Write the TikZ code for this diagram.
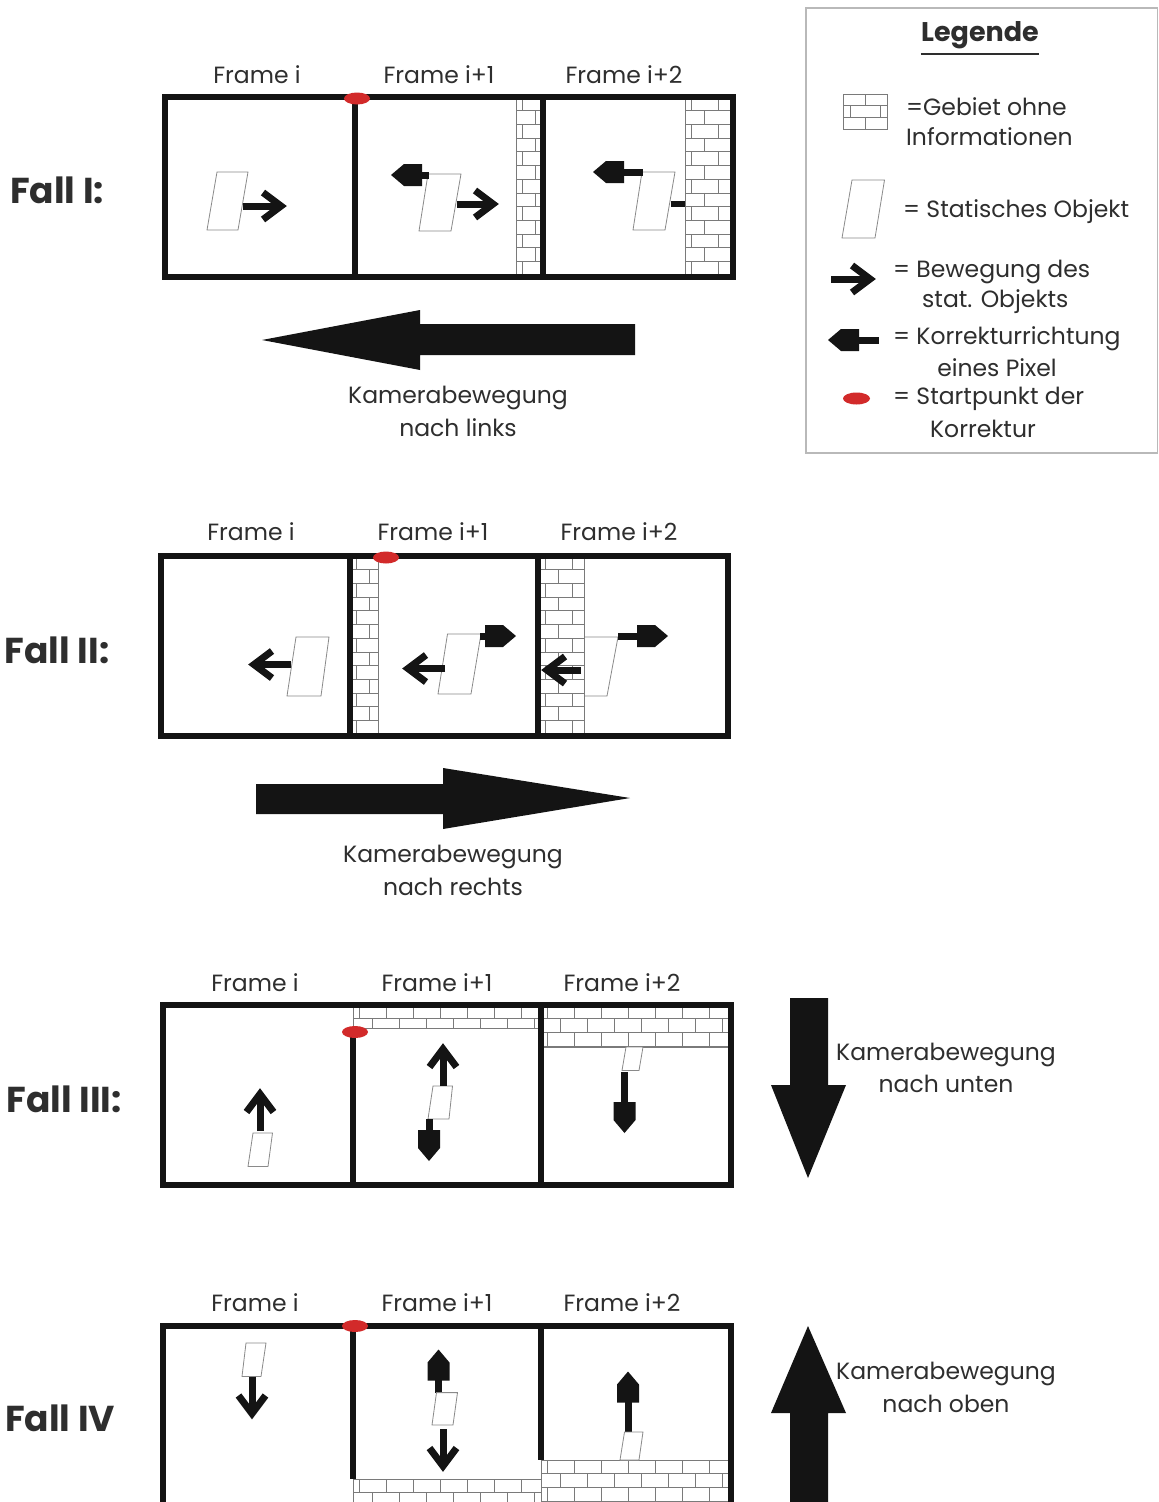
\documentclass[tikz,border=0pt]{standalone}
\usepackage{fontspec}
\setmainfont{Poppins}
\usetikzlibrary{calc}
\definecolor{txt}{HTML}{2E2E2E}
\definecolor{redpt}{HTML}{D22A2A}
\definecolor{objgray}{HTML}{8A8A8A}
\definecolor{brickgray}{HTML}{7A7A7A}
\tikzset{
  framebox/.style={line width=6pt, draw=black!92},
  divider/.style={line width=6pt, draw=black!92},
  obj/.style={draw=objgray, line width=0.8pt, fill=white},
  brickline/.style={draw=brickgray, line width=0.8pt},
  lbl/.style={text=txt, font=\fontsize{23.5}{26}\selectfont, inner sep=0pt},
  fall/.style={text=txt, font=\fontsize{36}{40}\selectfont\bfseries, inner sep=0pt},
  startpt/.style={fill=redpt, draw=none},
  bigarrow/.style={fill=black!92, draw=none}
}
\newcommand{\chev}[4]{% tip x, tip y, angle, shaft length
  \begin{scope}[shift={(#1,#2)},rotate=#3]
    \draw[line width=7pt, black!92] (-#4,0) -- (-7,0);
    \draw[line width=7pt, black!92, line join=miter, miter limit=10] (-23,-13.5) -- (-5,0) -- (-23,13.5);
  \end{scope}}
\newcommand{\blockarr}[4]{% tip x, tip y, angle, total length
  \begin{scope}[shift={(#1,#2)},rotate=#3]
    \fill[black!92] (0,0) -- (-13,11) -- (-31,11) -- (-31,-11) -- (-13,-11) -- cycle;
    \fill[black!92] (-30,-3.5) rectangle (-#4,3.5);
  \end{scope}}
\newcommand{\bricks}[4]{% x1 y1 x2 y2
  \begin{scope}
    \fill[white] (#1,#2) rectangle (#3,#4);
    \clip (#1,#2) rectangle (#3,#4);
    \foreach \rr in {0,...,14}{
      \pgfmathsetmacro\yy{#2+\rr*13.7}
      \draw[brickline] (#1,\yy) -- (#3,\yy);
      \pgfmathsetmacro\off{mod(\rr,2)*13.5+6}
      \foreach \kk in {0,...,8}{
        \pgfmathsetmacro\xx{#1+\off+\kk*27}
        \draw[brickline] (\xx,\yy) -- (\xx,\yy+13.7);
      }
    }
  \end{scope}
  \draw[brickline] (#1,#2) rectangle (#3,#4);}
\begin{document}
\begin{tikzpicture}[x=1pt,y=-1pt]
\useasboundingbox (0,0) rectangle (1159,1502);
\clip (0,0) rectangle (1159,1502);
\fill[white] (0,0) rectangle (1159,1502);

% ================= Legend =================
\draw[gray!55, line width=1.2pt] (806,8) rectangle (1157.5,453);
\node[text=txt, font=\fontsize{27}{30}\selectfont\bfseries, inner sep=0pt] (legtitle) at (980,35) {Legende};
\draw[txt, line width=2pt] ($(legtitle.south west)+(0,5)$) -- ($(legtitle.south east)+(0,5)$);
% brick icon
\draw[brickline] (843,94) rectangle (887,129);
\draw[brickline] (843,105.7) -- (887,105.7) (843,117.3) -- (887,117.3);
\draw[brickline] (865.5,94) -- (865.5,105.7) (850.5,105.7) -- (850.5,117.3) (880,105.7) -- (880,117.3) (865.5,117.3) -- (865.5,129);
\node[lbl, anchor=west] (leg1a) at (906,106.5) {=Gebiet ohne};
\node[lbl, anchor=west] (leg1b) at (906,137) {Informationen};
% object icon
\draw[obj] (842,238) -- (852,180) -- (884.5,180) -- (875,238) -- cycle;
\node[lbl, anchor=west] (leg2) at (903,212) {= Statisches Objekt};
% movement arrow
\chev{875}{279}{0}{44}
\node[lbl, anchor=west] (leg3a) at (893,272) {= Bewegung des};
\node[lbl, anchor=west] (leg3b) at (922,302) {stat. Objekts};
% correction arrow
\blockarr{828}{340}{180}{51}
\node[lbl, anchor=west] (leg4a) at (893,339) {= Korrekturrichtung};
\node[lbl] (leg4b) at (997,368) {eines Pixel};
% start point
\fill[startpt] (856.5,398.5) ellipse (13.5 and 6);
\node[lbl, anchor=west] (leg5a) at (893,399) {= Startpunkt der};
\node[lbl] (leg5b) at (983,429) {Korrektur};

% ================= Fall I =================
\node[fall] (f1) at (57,190) {Fall I:};
\node[lbl] (f1l1) at (257,75) {Frame i};
\node[lbl] (f1l2) at (439,75) {Frame i+1};
\node[lbl] (f1l3) at (624,75) {Frame i+2};
\bricks{516}{97}{541}{277}
\bricks{685}{97}{731}{277}
\draw[framebox] (165,97) rectangle (733,277);
\draw[divider] (355,97) -- (355,277);
\draw[divider] (543,97) -- (543,277);
\draw[obj] (207,230) -- (217,172) -- (248,172) -- (238,230) -- cycle;
\chev{286}{206}{0}{43}
\draw[obj] (419,231) -- (428,174) -- (461,174) -- (451,231) -- cycle;
\blockarr{391}{175}{180}{38}
\chev{498}{204}{0}{41}
\draw[obj] (633,230) -- (642,172) -- (675,172) -- (665,230) -- cycle;
\blockarr{593}{172}{180}{50}
\fill[black!92] (671,201) rectangle (685,207);
\fill[startpt] (357,98.5) ellipse (13 and 6);
\fill[bigarrow] (262,340) -- (420,310) -- (420,324) -- (635,324) -- (635,355) -- (420,355) -- (420,370) -- cycle;
\node[lbl] (k1a) at (458,398) {Kamerabewegung};
\node[lbl] (k1b) at (458,428) {nach links};

% ================= Fall II =================
\node[fall] (f2) at (57,650) {Fall II:};
\node[lbl] (f2l1) at (251,532) {Frame i};
\node[lbl] (f2l2) at (433,532) {Frame i+1};
\node[lbl] (f2l3) at (619,532) {Frame i+2};
\draw[obj] (574.5,696) -- (584,637) -- (618,637) -- (607,696) -- cycle;
\bricks{350}{556}{378}{736}
\bricks{539}{556}{584}{736}
\draw[framebox] (161,556) rectangle (728,736);
\draw[divider] (350,556) -- (350,736);
\draw[divider] (538,556) -- (538,736);
\draw[obj] (287,696) -- (296,637) -- (329,637) -- (321,696) -- cycle;
\chev{249}{664.5}{180}{42}
\draw[obj] (438,694) -- (447.5,634) -- (481,634) -- (471,694) -- cycle;
\chev{403}{668.5}{180}{42}
\blockarr{516}{636}{0}{36}
\blockarr{668}{636}{0}{50}
\chev{542}{670}{180}{39}
\fill[startpt] (386,557.5) ellipse (13 and 6);
\fill[bigarrow] (630,798) -- (443,768) -- (443,784) -- (256,784) -- (256,814) -- (443,814) -- (443,829) -- cycle;
\node[lbl] (k2a) at (453,857) {Kamerabewegung};
\node[lbl] (k2b) at (453,887) {nach rechts};

% ================= Fall III =================
\node[fall] (f3) at (64,1099) {Fall III:};
\node[lbl] (f3l1) at (255,983) {Frame i};
\node[lbl] (f3l2) at (437,983) {Frame i+1};
\node[lbl] (f3l3) at (622,983) {Frame i+2};
\bricks{353}{1005}{541}{1028}
\bricks{541}{1005}{731}{1047}
\draw[framebox] (163,1005) rectangle (731,1185);
\draw[divider] (353,1028) -- (353,1185);
\draw[divider] (541,1005) -- (541,1185);
\draw[obj] (248,1166.5) -- (253,1133) -- (272.5,1133) -- (268,1166.5) -- cycle;
\chev{260}{1089}{90}{42}
\draw[obj] (428,1119) -- (433,1086) -- (452.5,1086) -- (449,1119) -- cycle;
\chev{443}{1044}{90}{42}
\blockarr{429}{1161}{-90}{42}
\draw[obj] (622,1070.5) -- (626,1047) -- (643,1047) -- (639,1070.5) -- cycle;
\blockarr{624.5}{1133}{-90}{61}
\fill[startpt] (355,1032) ellipse (13 and 6);
\fill[bigarrow] (808,1178) -- (771,1085) -- (790,1085) -- (790,998) -- (828,998) -- (828,1085) -- (846,1085) -- cycle;
\node[lbl] (k3a) at (946,1055) {Kamerabewegung};
\node[lbl] (k3b) at (946,1084) {nach unten};

% ================= Fall IV =================
\node[fall] (f4) at (60,1418) {Fall IV};
\node[lbl] (f4l1) at (255,1303) {Frame i};
\node[lbl] (f4l2) at (437,1303) {Frame i+1};
\node[lbl] (f4l3) at (622,1303) {Frame i+2};
\bricks{353}{1479}{541}{1520}
\bricks{541}{1460}{731}{1520}
\draw[framebox] (163,1326) rectangle (731,1520);
\draw[divider] (353,1326) -- (353,1479);
\draw[divider] (541,1326) -- (541,1460);
\draw[obj] (242,1376.5) -- (246,1343) -- (266,1343) -- (261,1376.5) -- cycle;
\chev{252}{1418.5}{-90}{42}
\blockarr{438.5}{1349.5}{90}{43}
\draw[obj] (432,1425) -- (436.5,1392.6) -- (457.5,1392.6) -- (453,1425) -- cycle;
\chev{443}{1471}{-90}{42}
\blockarr{628}{1371.5}{90}{61}
\draw[obj] (620,1460) -- (624.5,1432) -- (643,1432) -- (639,1460) -- cycle;
\fill[startpt] (355,1326) ellipse (13 and 6);
\fill[bigarrow] (808,1326) -- (846,1413) -- (828,1413) -- (828,1520) -- (790,1520) -- (790,1413) -- (771,1413) -- cycle;
\node[lbl] (k4a) at (946,1374) {Kamerabewegung};
\node[lbl] (k4b) at (946,1404) {nach oben};
\end{tikzpicture}
\end{document}
